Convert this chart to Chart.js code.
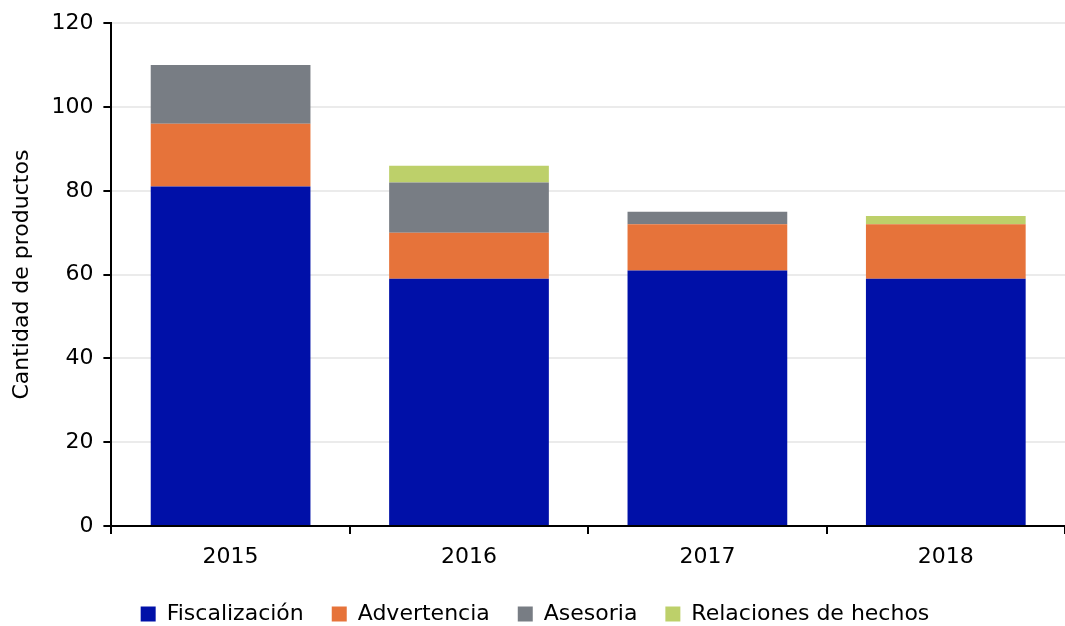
<!DOCTYPE html>
<html>
<head>
<meta charset="utf-8">
<script src="https://cdn.jsdelivr.net/npm/chart.js@4/dist/chart.umd.min.js"></script>
<style>
  html, body { margin: 0; padding: 0; background: #fff; }
  #wrap { width: 1065px; height: 626px; }
</style>
</head>
<body>
<div id="wrap"><canvas id="myChart" width="1065" height="626"></canvas></div>
<script>
// datos
const years = ['2015', '2016', '2017', '2018'];
const fiscalizacion = [81, 59, 61, 59];
const advertencia = [15, 11, 11, 13];
const asesoria = [14, 12, 3, 0];
const relaciones = [0, 4, 0, 2];
const yTicks = [0, 20, 40, 60, 80, 100, 120];

const fontFam = "'DejaVu Sans', sans-serif";

const ctx = document.getElementById('myChart').getContext('2d');
new Chart(ctx, {
  type: 'bar',
  data: {
    labels: years,
    datasets: [
      { label: 'Fiscalización', data: fiscalizacion, backgroundColor: '#0010A8' },
      { label: 'Advertencia', data: advertencia, backgroundColor: '#E6733A' },
      { label: 'Asesoria', data: asesoria, backgroundColor: '#787D84' },
      { label: 'Relaciones de hechos', data: relaciones, backgroundColor: '#BDD06A' }
    ]
  },
  options: {
    responsive: false,
    animation: false,
    layout: { padding: { top: 2, right: 0, left: 5, bottom: -9 } },
    datasets: {
      bar: { barPercentage: 0.67, categoryPercentage: 1.0, borderWidth: 0 }
    },
    plugins: {
      tooltip: { enabled: false },
      legend: {
        position: 'bottom',
        labels: {
          color: '#000',
          font: { family: fontFam, size: 22 },
          boxWidth: 15,
          boxHeight: 15,
          padding: 28
        }
      }
    },
    scales: {
      x: {
        stacked: true,
        offset: true,
        border: { color: '#000', width: 2 },
        grid: { drawOnChartArea: false, offset: true, color: '#000', tickLength: 8, lineWidth: 2 },
        ticks: { color: '#000', font: { family: fontFam, size: 22 }, padding: 10 },
        afterFit: (axis) => { axis.height = 49; }
      },
      y: {
        stacked: true,
        min: 0,
        max: 120,
        afterBuildTicks: (axis) => { axis.ticks = yTicks.map(v => ({ value: v })); },
        border: { color: '#000', width: 2 },
        grid: { color: '#EBEBEB', tickColor: '#000', tickLength: 8, lineWidth: 2 },
        ticks: { color: '#000', font: { family: fontFam, size: 22 }, padding: 10 },
        title: {
          display: true,
          text: 'Cantidad de productos',
          color: '#000',
          font: { family: fontFam, size: 22 },
          padding: { bottom: 6 }
        }
      }
    }
  }
});
</script>
</body>
</html>
